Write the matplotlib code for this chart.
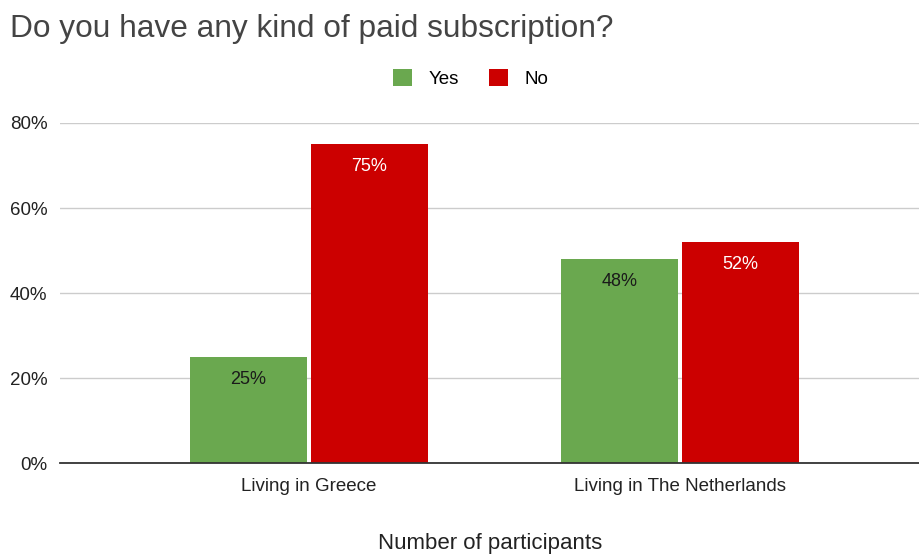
import matplotlib.pyplot as plt
import numpy as np

plt.rcParams['font.family'] = ['Liberation Sans', 'DejaVu Sans']

groups = ['Living in Greece', 'Living in The Netherlands']
series = ['Yes', 'No']
yes_vals = [25, 48]
no_vals = [75, 52]
colors = ['#6aa84f', '#cc0000']
label_colors = ['#1a1a1a', '#ffffff']

fig = plt.figure(figsize=(9.2, 5.54), dpi=100)
ax = fig.add_axes([0.065, 0.164, 0.935, 0.614])

x = np.arange(len(groups))
w = 0.316
gap = 0.005
for i, (vals, name) in enumerate(zip([yes_vals, no_vals], series)):
    pos = x + (i - 0.5) * (w + gap * 2)
    bars = ax.bar(pos, vals, width=w, color=colors[i], label=name, zorder=2)
    for b, v in zip(bars, vals):
        ax.annotate('%d%%' % v, (b.get_x() + b.get_width() / 2, v),
                    xytext=(0, -16), textcoords='offset points',
                    ha='center', va='center', fontsize=13, color=label_colors[i])

ax.set_xlim(-0.671, 1.647)
ax.set_ylim(0, 80)
ax.set_yticks([0, 20, 40, 60, 80])
ax.set_yticklabels(['%d%%' % t for t in [0, 20, 40, 60, 80]])
ax.set_xticks(x)
ax.set_xticklabels(groups)
ax.tick_params(axis='both', length=0, labelsize=13.5, colors='#222222')
ax.tick_params(axis='x', pad=11)
ax.tick_params(axis='y', pad=9)
ax.yaxis.grid(True, color='#cccccc', linewidth=1, zorder=0)
ax.set_axisbelow(True)
for s in ['top', 'right', 'left']:
    ax.spines[s].set_visible(False)
ax.spines['bottom'].set_color('#333333')
ax.spines['bottom'].set_linewidth(1.3)
ax.spines['bottom'].set_zorder(3)
ax.set_xlabel('Number of participants', fontsize=16, color='#222222', labelpad=27)

fig.text(0.011, 0.947, 'Do you have any kind of paid subscription?',
         fontsize=22.8, color='#444444', va='center', ha='left')
fig.legend(loc='center', bbox_to_anchor=(0.512, 0.858), ncol=2, frameon=False,
           fontsize=13.5, handlelength=1.0, handleheight=1.0, columnspacing=1.6,
           handletextpad=0.9)

fig.savefig('out.png', dpi=100)
